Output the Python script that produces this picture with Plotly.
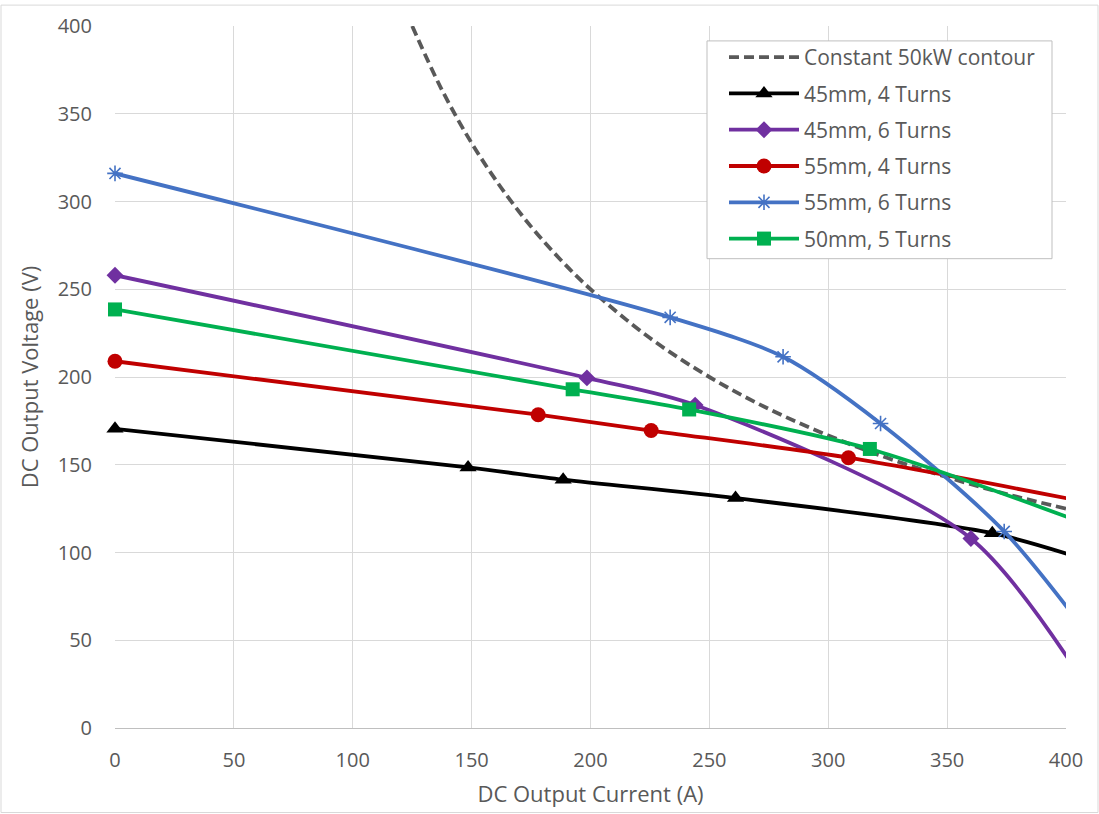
import plotly.graph_objects as go

# DC output current (A) / voltage (V) for each coil design.
# The last point of every series lies just past 400 A so the curve runs to the plot edge.
i_45mm_4t = [0, 148.5, 188.5, 261, 369, 415]
v_45mm_4t = [170.5, 148.5, 141.5, 131, 111, 93]

i_45mm_6t = [0, 198.5, 244, 360, 415]
v_45mm_6t = [258, 199.5, 184, 108, 10]

i_55mm_4t = [0, 178, 225.5, 308.5, 415]
v_55mm_4t = [209, 178.5, 169.5, 154, 127]

i_55mm_6t = [0, 233.5, 281, 322, 374, 415]
v_55mm_6t = [316, 234, 211.5, 173.5, 112, 43]

i_50mm_5t = [0, 192.5, 241.5, 317.5, 415]
v_50mm_5t = [238.5, 193, 181.5, 159, 113]

# Number of measured points per series (the extra trailing point only shapes the curve)
n_markers = {"45mm, 4 Turns": 5, "45mm, 6 Turns": 4, "55mm, 4 Turns": 4,
             "55mm, 6 Turns": 5, "50mm, 5 Turns": 4}

# 50 kW constant-power contour (V = P / I)
i_contour = [125, 137.5, 150, 162.5, 175, 187.5, 200, 225, 250, 275, 300, 325, 350, 375, 400]
v_contour = [400, 363.6, 333.3, 307.7, 285.7, 266.7, 250, 222.2, 200, 181.8, 166.7, 153.8, 142.9, 133.3, 125]

x_ticks = [0, 50, 100, 150, 200, 250, 300, 350, 400]
y_ticks = [0, 50, 100, 150, 200, 250, 300, 350, 400]

TEXT = "#595959"
FONT = "Open Sans"
LW = 3.8

fig = go.Figure()

fig.add_trace(go.Scatter(
    x=i_contour, y=v_contour, mode="lines", name="Constant 50kW contour",
    legendgroup="contour",
    line=dict(color="#595959", width=LW, dash="10px,5px", shape="spline"),
))

series = [
    ("45mm, 4 Turns", i_45mm_4t, v_45mm_4t, "#000000", "triangle-up", 15),
    ("45mm, 6 Turns", i_45mm_6t, v_45mm_6t, "#7030A0", "diamond", 13),
    ("55mm, 4 Turns", i_55mm_4t, v_55mm_4t, "#C00000", "circle", 15),
    ("55mm, 6 Turns", i_55mm_6t, v_55mm_6t, "#4472C4", "asterisk-open", 13),
    ("50mm, 5 Turns", i_50mm_5t, v_50mm_5t, "#00B050", "square", 14),
]
for name, xs, ys, color, symbol, size in series:
    marker = dict(symbol=symbol, size=size, color=color)
    if symbol.endswith("open"):
        marker["line"] = dict(color=color, width=1.6)
    line = dict(color=color, width=LW, shape="spline", smoothing=0.8)
    # smooth curve
    fig.add_trace(go.Scatter(x=xs, y=ys, mode="lines", line=line,
                             legendgroup=name, showlegend=False, hoverinfo="skip"))
    # measured points (drawn unclipped so the 0 A markers show in full)
    k = n_markers[name]
    fig.add_trace(go.Scatter(x=xs[:k], y=ys[:k], mode="markers", marker=marker,
                             legendgroup=name, showlegend=False, cliponaxis=False))
    # legend entry
    fig.add_trace(go.Scatter(x=[None], y=[None], mode="lines+markers", name=name,
                             legendgroup=name, line=line, marker=marker))

W, H = 1099, 814
ml, mr, mt, mb = 115, 33, 22, 86
pw, ph = W - ml - mr, H - mt - mb


def px_x(p):
    return (p - ml) / pw


def px_y(p):
    return 1 - (p - mt) / ph


fig.update_layout(
    width=W, height=H,
    margin=dict(l=ml, r=mr, t=mt, b=mb),
    paper_bgcolor="white", plot_bgcolor="white",
    font=dict(family=FONT, size=20, color=TEXT),
    showlegend=True,
    legend=dict(
        x=px_x(724), y=px_y(33), xanchor="left", yanchor="top",
        bgcolor="rgba(0,0,0,0)", borderwidth=0,
        font=dict(family=FONT, size=21, color=TEXT),
        itemwidth=70, tracegroupgap=6, traceorder="grouped",
    ),
    xaxis=dict(
        range=[0, 400], tickvals=x_ticks, showgrid=True, gridcolor="#d9d9d9", gridwidth=1,
        zeroline=False, showline=True, linecolor="#bfbfbf", linewidth=1, mirror=False,
        ticks="", ticklabelstandoff=14,
        title=dict(text="DC Output Current (A)", font=dict(family=FONT, size=22, color=TEXT), standoff=14),
    ),
    yaxis=dict(
        range=[0, 400], tickvals=y_ticks, showgrid=True, gridcolor="#d9d9d9", gridwidth=1,
        zeroline=False, showline=False, ticks="", ticklabelstandoff=22,
        title=dict(text="DC Output Voltage (V)", font=dict(family=FONT, size=22, color=TEXT), standoff=12),
    ),
    shapes=[
        # chart border
        dict(type="rect", xref="paper", yref="paper",
             x0=px_x(1), x1=px_x(W - 1), y0=px_y(H - 1), y1=px_y(1),
             line=dict(color="#d9d9d9", width=1), fillcolor="rgba(0,0,0,0)", layer="below"),
        # legend box
        dict(type="rect", xref="paper", yref="paper",
             x0=px_x(707), x1=px_x(1052), y0=px_y(256), y1=px_y(37),
             line=dict(color="#bfbfbf", width=1), fillcolor="white", layer="above"),
    ],
)

fig.write_html("out.html")
